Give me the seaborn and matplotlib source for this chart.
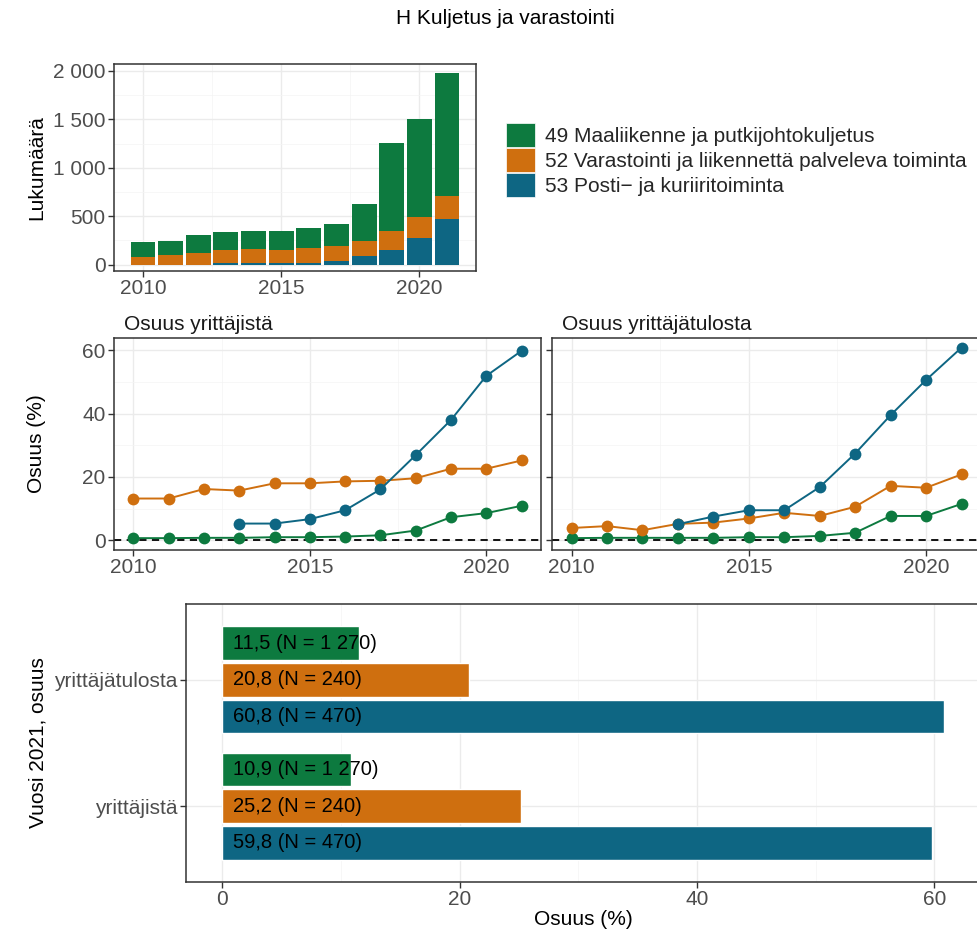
import matplotlib
matplotlib.use("Agg")
import matplotlib.pyplot as plt
import numpy as np
import pandas as pd
import seaborn as sns
from matplotlib.patches import Patch
from matplotlib.ticker import FuncFormatter, MultipleLocator

# data
years = list(range(2010, 2022))
groups = ["49 Maaliikenne ja putkijohtokuljetus",
          "52 Varastointi ja liikennettä palveleva toiminta",
          "53 Posti\u2212 ja kuriiritoiminta"]
colors = ["#0d7a3f", "#cf6f0f", "#0e6683"]

count_49 = [151, 141, 179, 182, 185, 195, 199, 229, 387, 906, 1012, 1270]
count_52 = [79, 103, 123, 134, 141, 134, 154, 155, 155, 198, 216, 240]
count_53 = [0, 0, 0, 17, 17, 14, 21, 34, 89, 148, 271, 470]

nan = np.nan
share_49 = [0.7, 0.7, 0.8, 0.8, 1.0, 1.0, 1.2, 1.6, 3.1, 7.3, 8.6, 10.9]
share_52 = [13.2, 13.2, 16.2, 15.7, 18.0, 18.0, 18.6, 18.8, 19.6, 22.6, 22.6, 25.2]
share_53 = [nan, nan, nan, 5.3, 5.3, 6.7, 9.5, 16.1, 26.9, 38.0, 51.9, 59.8]

income_49 = [0.7, 0.8, 0.8, 0.8, 0.8, 1.0, 1.0, 1.4, 2.4, 7.7, 7.7, 11.5]
income_52 = [3.9, 4.5, 3.2, 5.2, 5.6, 6.9, 8.7, 7.7, 10.6, 17.2, 16.6, 20.8]
income_53 = [nan, nan, nan, 5.1, 7.5, 9.5, 9.5, 16.8, 27.4, 39.5, 50.6, 60.8]

measures = ["yrittäjätulosta", "yrittäjistä"]

sns.set_theme(style="white")
plt.rcParams["font.family"] = ["Liberation Sans", "DejaVu Sans"]

FS = 15
BORDER = "#333333"
TICKC = "#4d4d4d"
pal = dict(zip(groups, colors))


def long_df(cols, name):
    rows = []
    for g, vals in zip(groups, cols):
        for y, v in zip(years, vals):
            rows.append({"year": y, "group": g, name: v})
    return pd.DataFrame(rows)


def style_axes(ax):
    for s in ax.spines.values():
        s.set_color(BORDER)
        s.set_linewidth(1.1)
    ax.tick_params(axis="both", which="major", length=4, width=1, color=BORDER,
                   labelcolor=TICKC, labelsize=FS, pad=2, bottom=True, left=True)
    ax.tick_params(which="minor", length=0)
    ax.grid(which="major", color="#ebebeb", lw=1.0)
    ax.grid(which="minor", color="#f4f4f4", lw=0.5)
    ax.set_axisbelow(True)


fig = plt.figure(figsize=(9.78, 9.33), dpi=100)
W, H = 978, 933


def add_ax(x0, y0, x1, y1, **kw):
    return fig.add_axes([x0 / W, 1 - y1 / H, (x1 - x0) / W, (y1 - y0) / H], **kw)


fig.text(505 / W, 1 - 18 / H, "H Kuljetus ja varastointi", ha="center", va="center",
         fontsize=FS, color="black")

# --- top: stacked counts ---
ax1 = add_ax(114, 64, 476, 271)
counts = long_df([count_49, count_52, count_53], "count")
sns.histplot(data=counts, x="year", weights="count", hue="group", hue_order=groups,
             multiple="stack", discrete=True, shrink=0.9, palette=pal, alpha=1,
             linewidth=0, legend=False, ax=ax1)
ax1.set_xlim(2008.95, 2022.05)
ax1.set_ylim(-65, 2070)
ax1.xaxis.set_major_locator(MultipleLocator(5))
ax1.xaxis.set_minor_locator(MultipleLocator(2.5))
ax1.yaxis.set_major_locator(MultipleLocator(500))
ax1.yaxis.set_minor_locator(MultipleLocator(250))
ax1.yaxis.set_major_formatter(FuncFormatter(lambda v, p: f"{v:,.0f}".replace(",", " ")))
style_axes(ax1)
ax1.set_xlabel("")
ax1.set_ylabel("Lukumäärä", fontsize=FS, color="black")
ax1.yaxis.set_label_coords(-68 / 362, 0.5)

fig.legend(handles=[Patch(facecolor=c, edgecolor="white", lw=0.5) for c in colors],
           labels=groups, loc="upper left", bbox_to_anchor=(506 / W, 1 - 123 / H),
           frameon=False, fontsize=FS, handlelength=1.4, handleheight=1.4,
           labelspacing=0.05, handletextpad=0.45, borderpad=0, borderaxespad=0)

# --- middle: shares over time ---
ax2 = add_ax(114, 338, 541, 550)
ax3 = add_ax(552, 338, 981, 550, sharey=ax2)
panels = [(ax2, long_df([share_49, share_52, share_53], "share"), "Osuus yrittäjistä"),
          (ax3, long_df([income_49, income_52, income_53], "share"), "Osuus yrittäjätulosta")]
for ax, df, title in panels:
    ax.axhline(0, color="black", lw=1.3, ls=(0, (4, 3)), zorder=1)
    sns.lineplot(data=df.dropna(), x="year", y="share", hue="group", hue_order=groups,
                 palette=pal, marker="o", markersize=8.5, markeredgewidth=0,
                 linewidth=1.4, legend=False, ax=ax, zorder=3)
    ax.set_xlim(2009.45, 2021.55)
    ax.set_ylim(-3.04, 63.84)
    ax.xaxis.set_major_locator(MultipleLocator(5))
    ax.xaxis.set_minor_locator(MultipleLocator(2.5))
    ax.yaxis.set_major_locator(MultipleLocator(20))
    ax.yaxis.set_minor_locator(MultipleLocator(10))
    style_axes(ax)
    ax.set_xlabel("")
    ax.set_ylabel("")
    ax.text(0.023, 1.04, title, transform=ax.transAxes, ha="left", va="baseline",
            fontsize=FS, color="#1a1a1a")
ax3.tick_params(axis="y", labelleft=False)
ax2.set_ylabel("Osuus (%)", fontsize=FS, color="black")
ax2.yaxis.set_label_coords(-68 / 427, 0.5)

# --- bottom: year 2021 shares ---
ax4 = add_ax(186, 604, 980, 882)
last = [(share_49[-1], income_49[-1], count_49[-1]),
        (share_52[-1], income_52[-1], count_52[-1]),
        (share_53[-1], income_53[-1], count_53[-1])]
rows = []
for g, (s, inc, n) in zip(groups, last):
    rows.append({"measure": "yrittäjätulosta", "group": g, "value": inc, "n": n})
    rows.append({"measure": "yrittäjistä", "group": g, "value": s, "n": n})
bars = pd.DataFrame(rows)
sns.barplot(data=bars, x="value", y="measure", hue="group", order=measures,
            hue_order=groups, palette=pal, orient="h", width=0.87, gap=0.08,
            saturation=1, legend=False, ax=ax4)
for g, cont in zip(groups, ax4.containers):
    for m, bar in zip(measures, cont):
        r = bars[(bars.group == g) & (bars.measure == m)].iloc[0]
        lab = f"{r.value:.1f}".replace(".", ",") + " (N = " + f"{r.n:,}".replace(",", " ") + ")"
        ax4.text(0.9, bar.get_y() + bar.get_height() / 2, lab, ha="left", va="center",
                 fontsize=14.5, color="black")
ax4.set_xlim(-3.04, 63.84)
ax4.set_ylim(1.6, -0.6)
ax4.xaxis.set_major_locator(MultipleLocator(20))
ax4.xaxis.set_minor_locator(MultipleLocator(10))
style_axes(ax4)
ax4.set_xlabel("Osuus (%)", fontsize=FS, color="black")
ax4.xaxis.set_label_coords(0.5, -28 / 278)
ax4.set_ylabel("Vuosi 2021, osuus", fontsize=FS, color="black")
ax4.yaxis.set_label_coords(-139 / 794, 0.5)

fig.savefig("out.png", dpi=100, facecolor="white")
